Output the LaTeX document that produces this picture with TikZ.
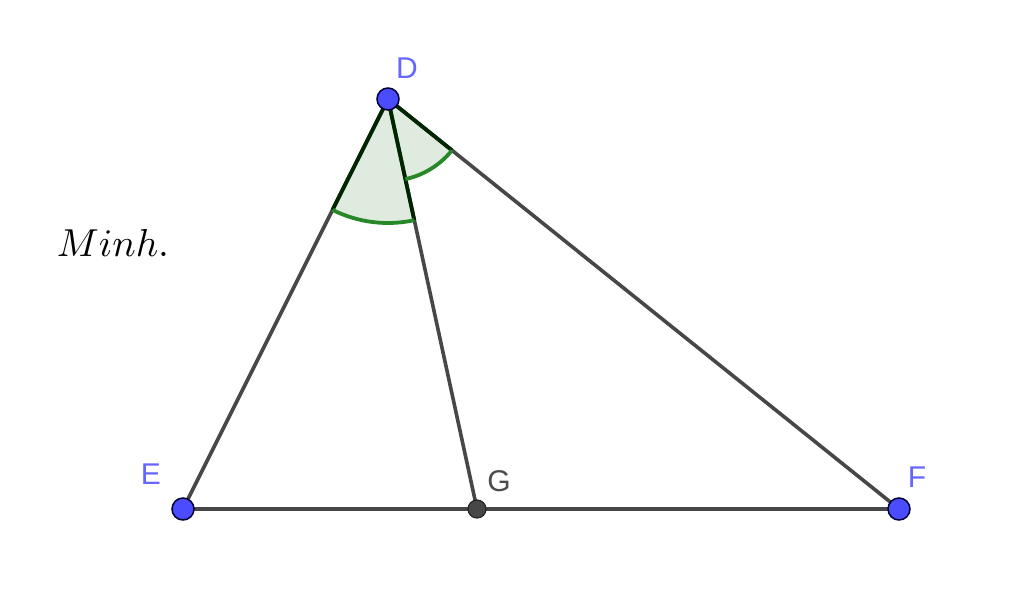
\documentclass[tikz,border=0pt]{standalone}
\usepackage{fontspec}
\newfontfamily\lblfont{Liberation Sans}
\begin{document}
\begin{tikzpicture}[x=1pt,y=-1pt,
  seg/.style={draw=black!72, line width=3.6pt},
  bluept/.style={circle, fill=blue!70!white, draw=black!80!blue, line width=1.5pt, minimum size=22pt, inner sep=0pt},
  graypt/.style={circle, fill=black!72, draw=black!85, line width=1.2pt, minimum size=18pt, inner sep=0pt},
  lbl/.style={font=\lblfont\fontsize{30}{30}\selectfont, text=blue!60!white, inner sep=0pt},
  sector/.style={fill=green!35!black!12!white, draw=none},
  arcline/.style={draw=green!45!black!85!white, line width=3.8pt},
  sectoredge/.style={draw=green!15!black, line width=3.8pt}]
\useasboundingbox (0,0) rectangle (1024,589);
\coordinate (D) at (388,99);
\coordinate (E) at (183,509);
\coordinate (F) at (899,509);
\coordinate (G) at (477,509);
% sectors
\fill[sector] (D) -- ++(243.43:124 and -124) arc[start angle=243.43, end angle=282.25, x radius=124, y radius=-124] -- cycle;
\fill[sector] (D) -- ++(282.25:82 and -82) arc[start angle=282.25, end angle=321.26, x radius=82, y radius=-82] -- cycle;
% triangle sides
\draw[seg] (E) -- (F);
\draw[seg] (D) -- (E);
\draw[seg] (D) -- (F);
\draw[seg] (D) -- (G);
% sector edges and arcs
\draw[sectoredge] (D) -- ++(243.43:124 and -124);
\draw[sectoredge] (D) -- ++(282.25:124 and -124);
\draw[sectoredge] (D) -- ++(321.26:82 and -82);
\draw[arcline] (D) ++(243.43:124 and -124) arc[start angle=243.43, end angle=282.25, x radius=124, y radius=-124];
\draw[arcline] (D) ++(282.25:82 and -82) arc[start angle=282.25, end angle=321.26, x radius=82, y radius=-82];
% points
\node[bluept] (nD) at (D) {};
\node[bluept] (nE) at (E) {};
\node[bluept] (nF) at (F) {};
\node[graypt] (nG) at (G) {};
\node[lbl] (lD) at (407,68) {D};
\node[lbl] (lE) at (151,474) {E};
\node[lbl] (lF) at (917,477) {F};
\node[lbl, text=black!70] (lG) at (499,481) {G};
\node[inner sep=0pt, scale=3.9] (minh) at (113,243) {$Minh.$};
\end{tikzpicture}
\end{document}
